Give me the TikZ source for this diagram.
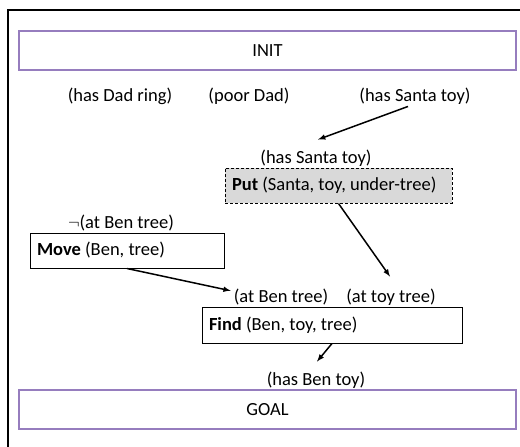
\documentclass[tikz,border=0pt]{standalone}
\usepackage{fontspec}
\setmainfont{Carlito}
\usepackage{xcolor}
\usetikzlibrary{positioning,arrows,calc}
\definecolor{framepurple}{RGB}{150,125,190}

\begin{document}
\begin{tikzpicture}[x=1pt,y=-1pt,font=\fontsize{18.5}{22}\selectfont,
    lit/.style={inner sep=0pt},
    endbox/.style={draw=framepurple,line width=1.6pt,minimum width=497pt,minimum height=39pt,inner sep=0pt},
    actbox/.style={draw,line width=1pt,minimum height=35pt,inner sep=7pt,align=flush left},
    arr/.style={-latex,line width=1.5pt}]
            \useasboundingbox (0,0) rectangle (520,447);
            \draw[line width=1.5pt] (8,450) -- (8,10) -- (523,10);
            \node[endbox] (init) at (267.5,50.5) {INIT};
            \node[endbox] (goal) at (267.5,409.5) {GOAL};
            \node[lit] (initring) at (120,96) {(has Dad ring)};
            \node[lit] (initpoor) at (249,96) {(poor Dad)};
            \node[lit] (initsanta) at (415,96) {(has Santa toy)};
            \node[lit] (putpre) at (316,158) {(has Santa toy)};
            \node[actbox,densely dashed,fill=black!15,minimum width=227pt,text width=213pt] (put) at (338.5,185.5) {\textbf{Put} (Santa, toy, under-tree)};
            \node[lit] (movepre) at (121,223) {$\neg$(at Ben tree)};
            \node[actbox,minimum width=194pt,text width=180pt] (move) at (127,250.5) {\textbf{Move} (Ben, tree)};
            \node[lit] (findpre1) at (281,297) {(at Ben tree)};
            \node[lit] (findpre2) at (391,297) {(at toy tree)};
            \node[actbox,minimum width=260pt,minimum height=36pt,text width=246pt] (find) at (332,325) {\textbf{Find} (Ben, toy, tree)};
            \node[lit] (goalpre) at (316,380) {(has Ben toy)};
            \draw[arr] ([shift={(-7,2)}]initsanta.south) -- ([shift={(2,-10)}]putpre.north);
            \draw[arr] (put.south) -- ([shift={(-1,-12)}]findpre2.north);
            \draw[arr] (move.south) -- ([shift={(-3,2)}]findpre1.north west);
            \draw[arr] (find.south) -- ([shift={(1,-10)}]goalpre.north);
          \end{tikzpicture}
\end{document}
